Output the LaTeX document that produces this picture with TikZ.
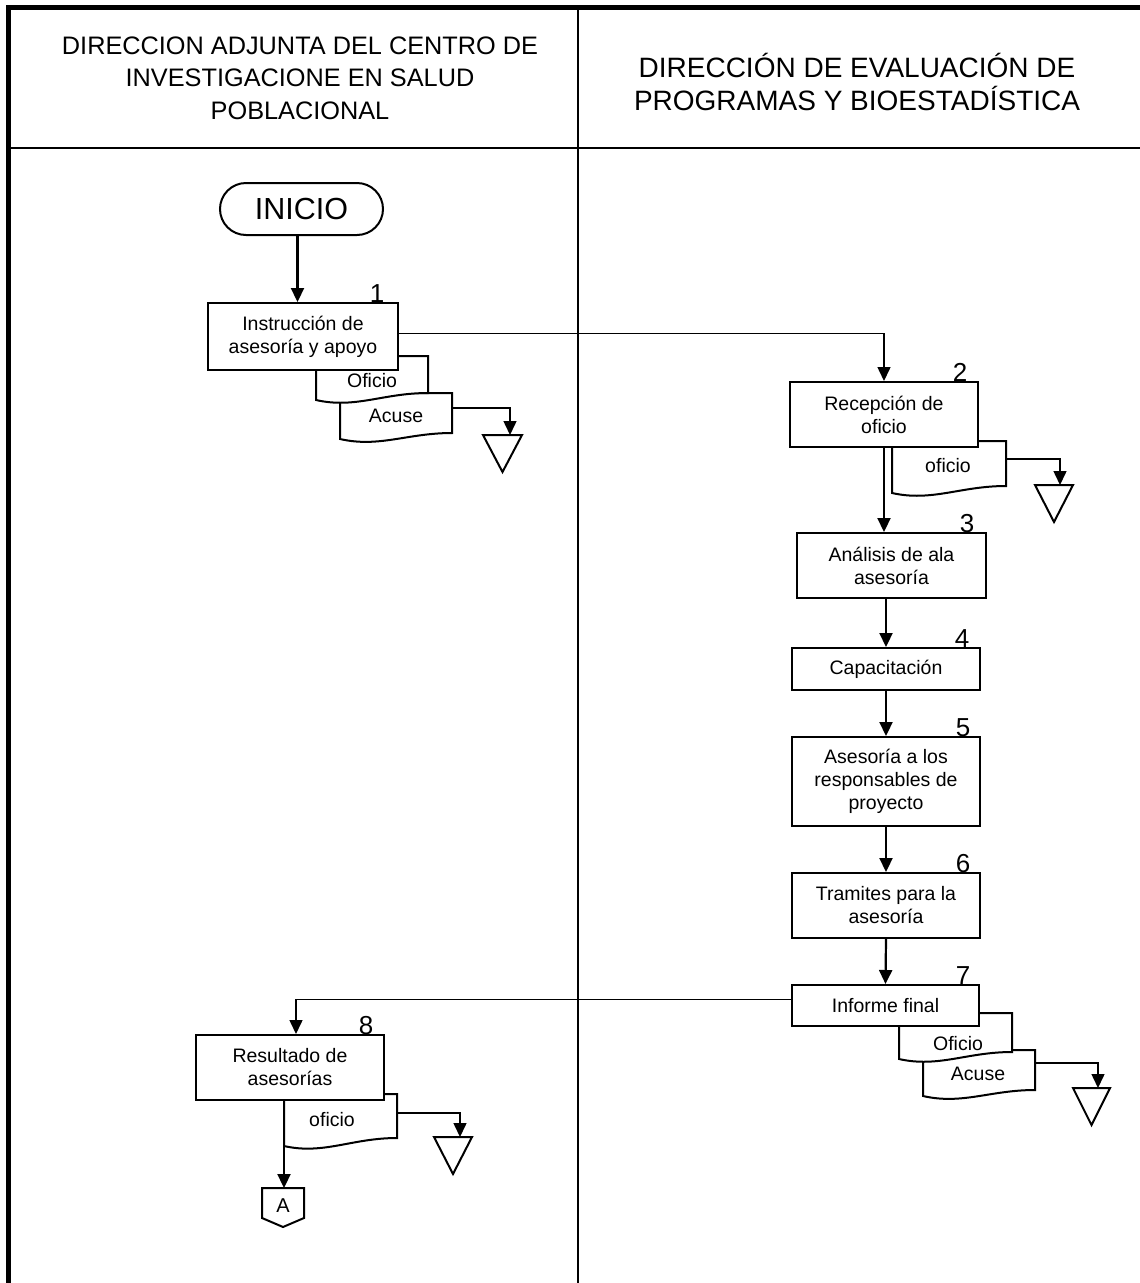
\documentclass[tikz,border=0pt]{standalone}
\usepackage{fontspec}
\setmainfont{Liberation Sans}
\usetikzlibrary{arrows.meta,calc}
\tikzset{
 boxnode/.style={draw, fill=white, line width=2pt, align=center, font=\fontsize{19.5}{23}\selectfont, inner sep=0pt},
 docline/.style={draw, fill=white, line width=2pt},
 doctext/.style={font=\fontsize{19.5}{23}\selectfont, inner sep=0pt},
 numlbl/.style={font=\fontsize{26}{28}\selectfont, anchor=base, inner sep=0pt},
 conn/.style={line width=2.2pt, -{Triangle[length=14pt,width=13pt]}},
 longconn/.style={line width=1.5pt, -{Triangle[length=14pt,width=13pt]}},
 hdrL/.style={align=center, font=\fontsize{25.3}{32.5}\selectfont},
 hdrR/.style={align=center, font=\fontsize{28}{32.5}\selectfont},
 term/.style={draw, line width=2pt, rounded corners=26pt, minimum width=163pt, minimum height=52pt, font=\fontsize{30.5}{34}\selectfont},
 sink/.style={draw, line width=2pt, fill=white, line join=miter},
 offpage/.style={draw, line width=2pt, fill=white}
}
% L T R bl br
\newcommand\docpath[5]{\path[docline] (#1,#2) -- (#3,#2) -- (#3,#5) .. controls ({#3-0.4*(#3-#1)},#5) and ({#1+0.35*(#3-#1)},{#4+9}) .. (#1,#4) -- cycle;}
% left top right
\newcommand\sinktri[3]{\path[sink] (#1,#2) -- (#3,#2) -- ({(#1+#3)/2},{#2+37}) -- cycle;}
\begin{document}
\begin{tikzpicture}[x=1pt,y=-1pt]
\useasboundingbox (0,0) rectangle (1140,1283);
% frame
\draw[line width=4.5pt, line join=miter] (8.5,1283) -- (8.5,7.5) -- (1140,7.5);
\draw[line width=2.5pt] (578,7.5) -- (578,1283);
\draw[line width=2.5pt] (8.5,148) -- (1140,148);
\node[hdrL] (h1) at (300,78) {DIRECCION ADJUNTA DEL CENTRO DE\\INVESTIGACIONE EN SALUD\\POBLACIONAL};
\node[hdrR] (h2) at (857,82) {DIRECCIÓN DE EVALUACIÓN DE\\PROGRAMAS Y BIOESTADÍSTICA};

% documents (drawn before the boxes, back to front)
\docpath{340}{393}{452}{439}{433}
\node[doctext] (d1b) at (396,416) {Acuse};
\docpath{316}{356}{428}{400}{393}
\node[doctext] (d1a) at (372,381) {Oficio};
\docpath{892}{441}{1006}{493}{486}
\node[doctext] (d2) at (948,466) {oficio};
\docpath{923}{1050}{1035}{1096}{1090}
\node[doctext] (d7b) at (978,1074) {Acuse};
\docpath{899}{1013}{1012}{1059}{1052}
\node[doctext] (d7a) at (958,1044) {Oficio};
\docpath{284}{1094}{397}{1146}{1138}
\node[doctext] (d8) at (332,1120) {oficio};

% terminal and process boxes
\node[term] (ini) at (301.5,209) {INICIO};
\node[boxnode, minimum width=190pt, minimum height=67pt] (b1) at (303,336.5) {Instrucción de\\asesoría y apoyo};
\node[boxnode, minimum width=188pt, minimum height=65pt] (b2) at (884,414.5) {Recepción de\\oficio};
\node[boxnode, minimum width=189pt, minimum height=65pt] (b3) at (891.5,565.5) {Análisis de ala\\asesoría};
\node[boxnode, minimum width=188pt, minimum height=42pt] (b4) at (886,669) {Capacitación};
\node[boxnode, minimum width=188pt, minimum height=89pt] (b5) at (886,781.5) {Asesoría a los\\responsables de\\proyecto};
\node[boxnode, minimum width=188pt, minimum height=65pt] (b6) at (886,905.5) {Tramites para la\\asesoría};
\node[boxnode, minimum width=187pt, minimum height=41pt] (b7) at (885.5,1005.5) {Informe final};
\node[boxnode, minimum width=188pt, minimum height=65pt] (b8) at (290,1067.5) {Resultado de\\asesorías};

% step numbers
\node[numlbl] (n1) at (377,302) {1};
\node[numlbl] (n2) at (960,381) {2};
\node[numlbl] (n3) at (967,532) {3};
\node[numlbl] (n4) at (962,647) {4};
\node[numlbl] (n5) at (963,736) {5};
\node[numlbl] (n6) at (963,872) {6};
\node[numlbl] (n7) at (963,984) {7};
\node[numlbl] (n8) at (366,1034) {8};

% archive triangles
\sinktri{483}{435}{522}
\coordinate (t1) at (510,435);
\sinktri{1035}{485}{1073}
\coordinate (t2) at (1060,485);
\sinktri{1073}{1088}{1110}
\coordinate (t3) at (1098,1088);
\sinktri{434}{1137}{472}
\coordinate (t4) at (460,1137);

% off-page connector A
\path[offpage] (262,1188) -- (304,1188) -- (304,1218) -- (283,1227) -- (262,1218) -- cycle;
\node[font=\fontsize{20}{22}\selectfont, inner sep=0pt] (conA) at (283,1206) {A};
\coordinate (aTop) at (284,1188);

% doc edge coordinates
\coordinate (d1bR) at (452,408);
\coordinate (d2R) at (1006,459);
\coordinate (d7bR) at (1035,1063);
\coordinate (d8R) at (397,1113);

% connectors
\draw[conn] ([xshift=-4pt]ini.south) -- ([xshift=-4pt]ini.south |- b1.north);
\draw[longconn] ([yshift=3pt]b1.east) -| (b2.north);
\draw[conn] (b2.south) -- (b2.south |- b3.north);
\draw[conn] (b3.south -| b4.north) -- (b4.north);
\draw[conn] (b4.south) -- (b5.north);
\draw[conn] (b5.south) -- (b6.north);
\draw[conn] (b6.south) -- (b7.north);
\draw[longconn] ([yshift=6pt]b7.west) -| ([xshift=6pt]b8.north);
\draw[conn] (b8.south -| aTop) -- (aTop);
\draw[longconn] (d1bR) -| (t1);
\draw[longconn] (d2R) -| (t2);
\draw[longconn] (d7bR) -| (t3);
\draw[longconn] (d8R) -| (t4);
\end{tikzpicture}
\end{document}
